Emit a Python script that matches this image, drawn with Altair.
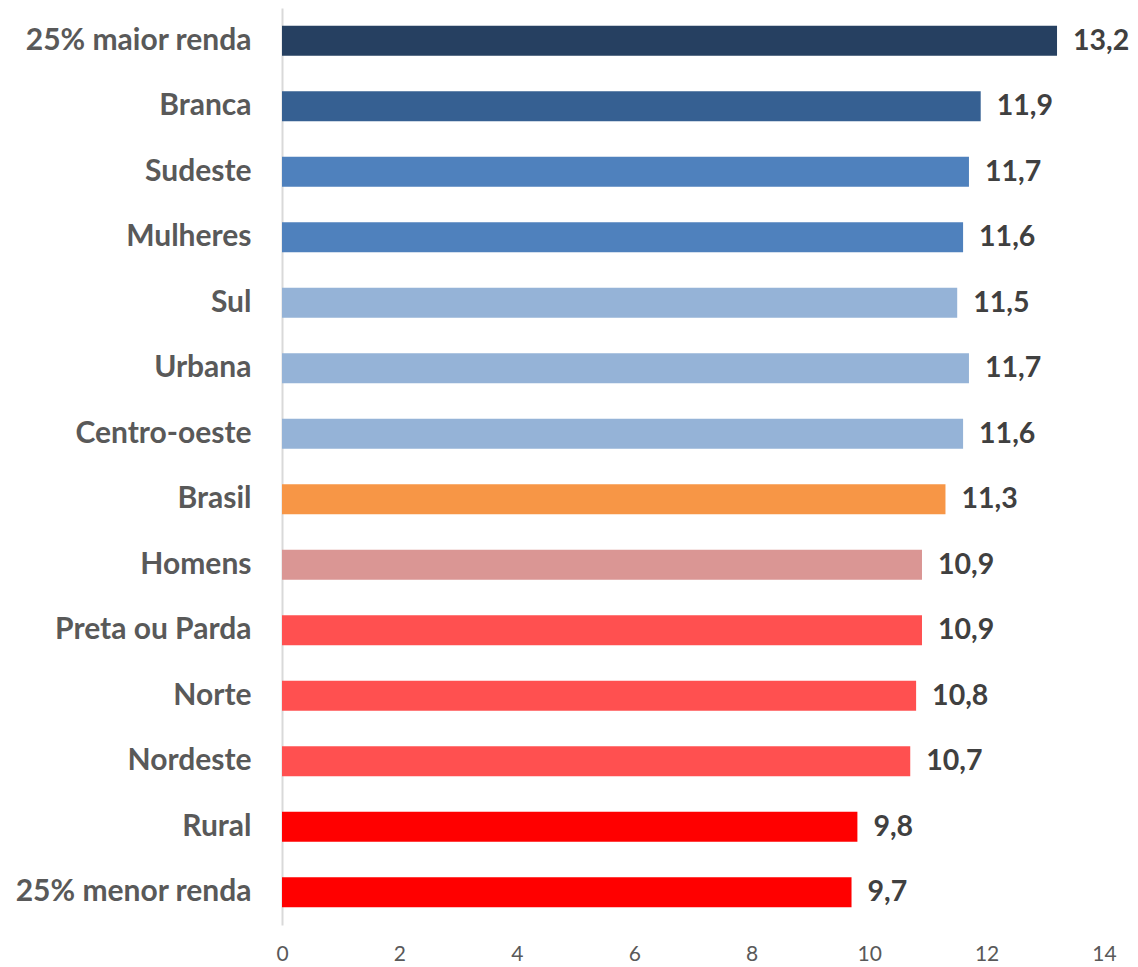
import altair as alt
import pandas as pd

categories = ["25% maior renda", "Branca", "Sudeste", "Mulheres", "Sul", "Urbana",
              "Centro-oeste", "Brasil", "Homens", "Preta ou Parda", "Norte",
              "Nordeste", "Rural", "25% menor renda"]
values = [13.2, 11.9, 11.7, 11.6, 11.5, 11.7, 11.6, 11.3, 10.9, 10.9, 10.8, 10.7, 9.8, 9.7]
colors = ["#264061", "#366092", "#4F81BD", "#4F81BD", "#95B3D7", "#95B3D7", "#95B3D7",
          "#F79646", "#DA9694", "#FF5050", "#FF5050", "#FF5050", "#FF0000", "#FF0000"]
x_ticks = [0, 2, 4, 6, 8, 10, 12, 14]

df = pd.DataFrame({
    "cat": categories,
    "val": values,
    "color": colors,
    "label": [f"{v:.1f}".replace(".", ",") for v in values],
})

FONT = "Lato"

y_enc = alt.Y("cat:N", sort=categories,
              scale=alt.Scale(paddingInner=0.54, paddingOuter=0.27),
              axis=alt.Axis(title=None, ticks=False, domain=True, domainColor="#D9D9D9",
                            domainWidth=2, labelFont=FONT, labelFontSize=30,
                            labelFontWeight="bold", labelColor="#595959",
                            labelPadding=31, labelLimit=400))
x_enc = alt.X("val:Q", scale=alt.Scale(domain=[0, 14], nice=False),
              axis=alt.Axis(title=None, values=x_ticks, format="d", grid=False, ticks=False,
                            domain=False, labelFont=FONT, labelFontSize=21,
                            labelColor="#595959", labelPadding=18, labelFlush=False))

bars = alt.Chart(df).mark_bar().encode(
    x=x_enc, y=y_enc, color=alt.Color("color:N", scale=None))

text = alt.Chart(df).mark_text(
    align="left", baseline="middle", dx=16, font=FONT, fontSize=28.5,
    fontWeight="bold", color="#404040").encode(
    x="val:Q", y=alt.Y("cat:N", sort=categories), text="label:N")

chart = (bars + text).properties(
    width=822, height=917,
    autosize=alt.AutoSizeParams(type="none"),
    padding={"left": 274, "top": 0, "right": 26, "bottom": 40},
).configure_view(stroke=None)

chart.save("out.html", embed_options={"renderer": "svg", "actions": False})
